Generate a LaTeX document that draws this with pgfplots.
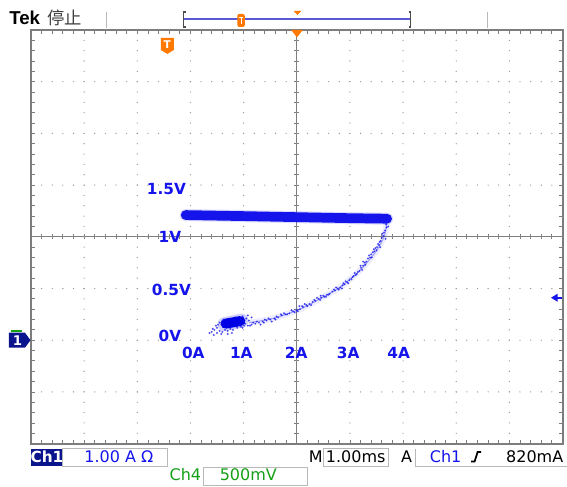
\documentclass[border=0pt]{standalone}
\usepackage{pgfplots}
\pgfplotsset{compat=1.18}
\usepackage{fontspec}
\setmainfont{DejaVu Sans}
\newfontfamily\cjk{Noto Sans CJK SC}
\newfontfamily\arial{Liberation Sans}
\definecolor{tekblue}{RGB}{20,20,235}
\definecolor{tekdark}{RGB}{10,20,140}
\definecolor{tekorange}{RGB}{255,120,0}
\definecolor{tekgreen}{RGB}{20,160,20}
\definecolor{framegray}{RGB}{125,125,125}
\definecolor{dotgray}{RGB}{150,150,150}
\definecolor{boxgray}{RGB}{185,185,185}
\definecolor{barblue}{RGB}{90,90,210}
\begin{document}
\begin{tikzpicture}
\begin{scope}[x=0.75pt,y=-0.75pt]
\useasboundingbox (0,0) rectangle (567,484);
\end{scope}
% centre crosshair
\begin{axis}[at={(23.25pt,-22.5pt)}, anchor=north west, scale only axis,
  width=399pt, height=310.5pt,
  xmin=-5, xmax=5, ymin=-4, ymax=4,
  axis lines=middle,
  axis line style={-, draw=framegray, line width=0.75pt},
  every inner x axis line/.append style={-},
  every inner y axis line/.append style={-},
  xtick={-5,...,5}, ytick={-4,...,4},
  minor tick num=4,
  xticklabels={}, yticklabels={},
  tick align=center, major tick length=4pt, minor tick length=4pt,
  tick style={framegray, line width=0.6pt},
  hide obscured x ticks=false, hide obscured y ticks=false]
\end{axis}
% main graticule and data
\begin{axis}[at={(23.25pt,-22.5pt)}, anchor=north west, scale only axis,
  width=399pt, height=310.5pt,
  xmin=-3, xmax=7, ymin=-1, ymax=3,
  xtick={-3,...,7}, ytick={-1,-0.5,...,3},
  minor x tick num=4, minor y tick num=4,
  xticklabels={}, yticklabels={},
  tick align=inside, major tick length=3pt, minor tick length=3pt,
  tick style={framegray, line width=0.6pt},
  axis line style={draw=framegray, line width=1.5pt},
  grid=major,
  major x grid style={draw=dotgray, line width=1pt, line cap=round, dash pattern=on 0pt off 7.7625pt},
  major y grid style={draw=dotgray, line width=1pt, line cap=round, dash pattern=on 0pt off 7.98pt},
  clip=true]
% upper plateau
\addplot[draw=tekblue, opacity=0.15, line width=9pt, line cap=round] coordinates {
  (-0.09,1.21) (1,1.20) (2,1.19) (3,1.18) (3.70,1.175)};
\addplot[draw=tekblue, line width=7.3pt, line cap=round] coordinates {
  (-0.09,1.21) (1,1.20) (2,1.19) (3,1.18) (3.70,1.175)};
% return branch
\addplot[draw=tekblue, opacity=0.08, line width=4.5pt, smooth] coordinates {
  (3.70,1.15) (3.65,1.01) (3.52,0.88) (3.37,0.78) (3.18,0.67) (3.00,0.59) (2.81,0.51) (2.47,0.41)
  (2.06,0.30) (1.55,0.21) (1.10,0.17)};
\addplot[draw=tekblue, opacity=0.35, line width=0.8pt, smooth] coordinates {
  (3.70,1.15) (3.65,1.01) (3.52,0.88) (3.37,0.78) (3.18,0.67) (3.00,0.59) (2.81,0.51) (2.47,0.41)
  (2.06,0.30) (1.55,0.21) (1.10,0.17)};
\addplot[only marks, mark=*, mark size=0.55pt, tekblue, opacity=0.6] coordinates {
  (3.70,1.15) (3.68,1.12) (3.69,1.09) (3.66,1.06) (3.64,1.04) (3.63,1.01)
  (3.60,0.99) (3.58,0.96) (3.56,0.95) (3.53,0.93) (3.51,0.90) (3.48,0.89)
  (3.46,0.86) (3.43,0.85) (3.40,0.83) (3.38,0.80) (3.34,0.79) (3.31,0.76)
  (3.28,0.75) (3.25,0.72) (3.21,0.70) (3.18,0.67) (3.15,0.66) (3.11,0.63)
  (3.07,0.62) (3.03,0.59) (2.99,0.58) (2.95,0.56) (2.90,0.54) (2.86,0.53)
  (2.82,0.51) (2.77,0.50) (2.72,0.48) (2.67,0.47) (2.62,0.45) (2.57,0.44)
  (2.52,0.42) (2.46,0.41) (2.41,0.40) (2.35,0.38) (2.30,0.37) (2.24,0.35)
  (2.18,0.34) (2.12,0.32) (2.06,0.30) (2.00,0.29) (1.93,0.28) (1.86,0.26)
  (1.79,0.25) (1.72,0.24) (1.65,0.22) (1.58,0.21) (1.50,0.20) (1.43,0.19)
  (1.36,0.18) (1.29,0.17) (1.22,0.16) (1.15,0.15) (1.08,0.14) (1.01,0.14)
  (0.95,0.13)
  (3.72,1.10) (3.61,1.03) (3.55,0.92) (3.45,0.88) (3.36,0.82) (3.29,0.73)
  (3.20,0.72) (3.13,0.64) (3.05,0.61) (2.97,0.55) (2.88,0.55) (2.79,0.49)
  (2.70,0.49) (2.60,0.44) (2.50,0.43) (2.44,0.39) (2.33,0.39) (2.20,0.33)
  (2.10,0.33) (2.02,0.28) (1.90,0.29) (1.82,0.25) (1.70,0.25) (1.60,0.20)
  (1.47,0.21) (1.38,0.17) (1.25,0.18) (1.12,0.14) (1.03,0.16) (0.98,0.12)
  (2.05,0.33) (2.45,0.43) (2.85,0.50) (3.25,0.76) (3.50,0.87)
  (3.67,0.98) (3.57,0.90) (3.41,0.80) (3.23,0.68) (3.09,0.65) (2.92,0.57)
  (2.74,0.51) (2.55,0.42) (2.38,0.41) (2.27,0.34) (2.15,0.35) (1.96,0.27)
  (1.76,0.26) (1.62,0.23) (1.53,0.18) (1.40,0.20) (1.32,0.15) (1.18,0.17)
  (0.40,0.08) (0.45,0.10) (0.50,0.07) (0.55,0.09) (0.50,0.12) (0.60,0.08)
  (0.65,0.10) (0.70,0.09) (0.75,0.11) (0.80,0.10) (0.88,0.12) (0.92,0.15)
  (0.95,0.20) (1.00,0.18) (1.05,0.21) (0.85,0.22) (0.62,0.20) (0.55,0.17)
  (0.48,0.14) (0.42,0.11) (1.10,0.19) (1.15,0.22) (0.70,0.06) (0.78,0.07)
  (0.36,0.07) (0.44,0.05) (0.58,0.06) (1.08,0.24) (0.98,0.23) (0.52,0.15)};
% dense cluster near 0.8 A
\addplot[draw=tekblue, opacity=0.2, line width=10.5pt, line cap=round] coordinates {
  (0.64,0.155) (0.96,0.19)};
\addplot[draw=blue!90!black, line width=7.5pt, line cap=round] coordinates {
  (0.66,0.16) (0.94,0.185)};
\end{axis}
\begin{scope}[x=0.75pt,y=-0.75pt]
% annotations
\begin{scope}[every node/.style={font=\bfseries\fontsize{11.5}{12}\selectfont, text=tekblue, inner sep=0pt}]
\node at (166.5,189) {1.5V};
\node at (170,237) {1V};
\node at (171.5,290) {0.5V};
\node at (170,336) {0V};
\node at (193.5,353) {0A};
\node at (241.5,353) {1A};
\node at (296.5,353) {2A};
\node at (348.5,353) {3A};
\node at (399,353) {4A};
\end{scope}
% header
\node[anchor=base west, inner sep=0pt, font=\arial\bfseries\fontsize{14}{14}\selectfont] at (9,25) {Tek};
\node[anchor=base west, inner sep=0pt, text=black!75, font=\cjk\fontsize{13}{14}\selectfont] at (47,25) {停止};
\draw[boxgray, line width=0.75pt] (107,12) -- (107,28);
\draw[boxgray, line width=0.75pt] (488,12) -- (488,28);
\draw[barblue, line width=0.9pt] (184,19) -- (411,19);
\draw[black!70, line width=0.9pt] (186,12) -- (184,12) -- (184,27) -- (186,27);
\draw[black!70, line width=0.9pt] (409,12) -- (411,12) -- (411,27) -- (409,27);
\fill[tekorange, rounded corners=1.5pt] (237.5,14) rectangle (245,27);
\draw[white, line width=0.8pt] (239.5,17.5) -- (243,17.5) (241.25,17.5) -- (241.25,24.5);
\fill[tekorange] (294,11) -- (301.5,11) -- (297.7,15) -- cycle;
\fill[tekorange] (291.5,30) -- (303,30) -- (297.2,37.5) -- cycle;
\fill[tekorange] (161,38) -- (174,38) -- (174,50) -- (167.5,54) -- (161,50) -- cycle;
\node[text=white, inner sep=0pt, font=\bfseries\fontsize{8}{8}\selectfont] at (167.5,45) {T};
% channel 1 ground marker
\fill[tekdark] (9,333) -- (25,333) -- (30.5,340.5) -- (25,348) -- (9,348) -- cycle;
\draw[tekgreen, line width=1.5pt] (11,331.5) -- (22,331.5);
\node[text=white, inner sep=0pt, font=\bfseries\fontsize{10}{10}\selectfont] at (17.5,340.5) {1};
% right side arrow
\fill[tekblue] (551.5,298) -- (558,294) -- (558,302) -- cycle;
\draw[tekblue, line width=1.5pt] (557,298) -- (562,298);
% status bar
\fill[tekdark] (31,449) rectangle (63,466);
\node[text=white, inner sep=0pt, font=\bfseries\fontsize{11.5}{12}\selectfont] at (47,457.5) {Ch1};
\draw[boxgray, line width=0.75pt] (63,449) rectangle (168,467);
\node[anchor=base, text=tekblue, inner sep=0pt, font=\fontsize{12}{12}\selectfont] at (119,462.5) {1.00 A Ω};
\node[anchor=base, inner sep=0pt, font=\fontsize{12}{12}\selectfont] at (316,462.5) {M};
\draw[boxgray, line width=0.75pt] (324,449) rectangle (389,467);
\node[anchor=base, inner sep=0pt, font=\fontsize{12}{12}\selectfont] at (356,462.5) {1.00ms};
\node[anchor=base, inner sep=0pt, font=\fontsize{12}{12}\selectfont] at (407,462.5) {A};
\draw[boxgray, line width=0.75pt] (416,449) -- (416,467) -- (567,467);
\node[anchor=base, text=tekblue, inner sep=0pt, font=\fontsize{12}{12}\selectfont] at (446,462.5) {Ch1};
\draw[black, line width=1.3pt] (471.5,462) -- (475,462) -- (478,452.5) -- (481.5,452.5);
\node[anchor=base east, inner sep=0pt, font=\fontsize{12}{12}\selectfont] at (564,462.5) {820mA};
\node[anchor=base, text=tekgreen, inner sep=0pt, font=\fontsize{12}{12}\selectfont] at (185.5,481) {Ch4};
\draw[boxgray, line width=0.75pt] (204,468) rectangle (308,486);
\node[anchor=base, text=tekgreen, inner sep=0pt, font=\fontsize{12}{12}\selectfont] at (248.5,481) {500mV};
\end{scope}
\end{tikzpicture}
\end{document}
